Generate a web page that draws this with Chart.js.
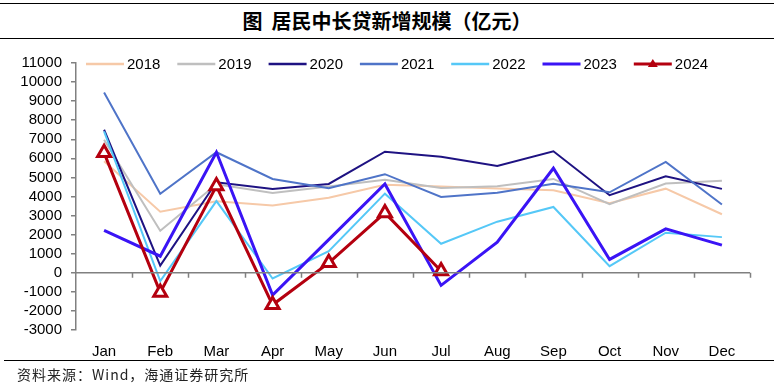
<!DOCTYPE html>
<html>
<head>
<meta charset="utf-8">
<script src="https://cdn.jsdelivr.net/npm/chart.js@4.4.1/dist/chart.umd.min.js"></script>
<style>
  html, body { margin: 0; padding: 0; background: #fff; }
  #wrap { position: relative; width: 774px; height: 391px; overflow: hidden; }
  #title {
    position: absolute; left: 0; top: 3px; width: 774px; height: 34px;
    border-top: 1.5px solid #000; border-bottom: 1.5px solid #000;
    text-align: center; line-height: 34px;
    font-family: "Noto Sans CJK SC", sans-serif; font-weight: bold; font-size: 20px; color: #000;
  }
  #source {
    position: absolute; left: 4px; top: 360px; width: 766px;
    border-top: 1.5px solid #000; padding-left: 13px; padding-top: 3px;
    font-family: "Noto Sans CJK SC", sans-serif; font-size: 14px; color: #222; letter-spacing: 1px;
  }
  #myChart { position: absolute; left: 0; top: 0; }
</style>
</head>
<body>
<div id="wrap">
  <div id="title">图&nbsp;&nbsp;居民中长贷新增规模（亿元）</div>
  <canvas id="myChart" width="774" height="391"></canvas>
  <div id="source">资料来源：Wind，海通证券研究所</div>
</div>
<script>
// data (亿元)
const months = ['Jan', 'Feb', 'Mar', 'Apr', 'May', 'Jun', 'Jul', 'Aug', 'Sep', 'Oct', 'Nov', 'Dec'];
const y2018 = [5850, 3200, 3750, 3530, 3930, 4610, 4520, 4420, 4330, 3650, 4410, 3070];
const y2019 = [6980, 2200, 4640, 4180, 4520, 4880, 4450, 4540, 4920, 3600, 4680, 4820];
const y2020 = [7500, 380, 4750, 4400, 4660, 6350, 6080, 5600, 6370, 4070, 5060, 4400];
const y2021 = [9450, 4140, 6320, 4920, 4430, 5170, 3980, 4200, 4670, 4220, 5810, 3580];
const y2022 = [7420, -440, 3760, -300, 1130, 4150, 1520, 2680, 3450, 350, 2100, 1870];
const y2023 = [2220, 870, 6320, -1170, 1740, 4660, -660, 1600, 5480, 700, 2300, 1450];
const y2024 = [6290, -1030, 4550, -1680, 520, 3140, 90];

const seriesNames = ['2018', '2019', '2020', '2021', '2022', '2023', '2024'];
const seriesColors = ['#F6C9A8', '#BFBFBF', '#1E1282', '#4F74C8', '#55C8F7', '#3A14F5', '#B4000F'];
const seriesValues = [y2018, y2019, y2020, y2021, y2022, y2023, y2024];

const datasets = seriesValues.map((vals, i) => {
  const isLast = i === seriesValues.length - 1;
  return {
    label: seriesNames[i],
    data: vals,
    borderColor: seriesColors[i],
    backgroundColor: isLast ? '#fff' : seriesColors[i],
    borderWidth: i >= 5 ? 3 : 2,
    pointRadius: isLast ? 7.5 : 0,
    pointStyle: 'triangle',
    pointBorderWidth: 3,
    pointBorderColor: seriesColors[i],
    pointBackgroundColor: '#fff',
    tension: 0,
    order: seriesValues.length - i
  };
});

// zero line with downward ticks between categories, and the legend across the top
const axisAndLegend = {
  id: 'axisAndLegend',
  afterDatasetsDraw(chart) {
    const ctx = chart.ctx;
    const x = chart.scales.x;
    const y = chart.scales.y;
    const y0 = y.getPixelForValue(0);
    const step = (x.right - x.left) / months.length;
    ctx.save();
    ctx.strokeStyle = '#808080';
    ctx.lineWidth = 1.5;
    ctx.beginPath();
    ctx.moveTo(x.left, y0);
    ctx.lineTo(x.right, y0);
    for (let i = 1; i <= months.length; i++) {
      const px = Math.round(x.left + i * step) + 0.5;
      ctx.moveTo(px, y0);
      ctx.lineTo(px, y0 + 5);
    }
    ctx.stroke();

    // legend
    ctx.font = '15px "Liberation Sans", Arial, sans-serif';
    ctx.textBaseline = 'middle';
    ctx.fillStyle = '#000';
    const ly = 64;
    seriesNames.forEach((name, i) => {
      const lx = 86 + i * 91.3;
      ctx.strokeStyle = seriesColors[i];
      ctx.lineWidth = i >= 5 ? 3 : 2.5;
      ctx.beginPath();
      ctx.moveTo(lx, ly);
      ctx.lineTo(lx + 38, ly);
      ctx.stroke();
      if (i === seriesNames.length - 1) {
        ctx.fillStyle = seriesColors[i];
        ctx.beginPath();
        ctx.moveTo(lx + 19, ly - 5);
        ctx.lineTo(lx + 24, ly + 3);
        ctx.lineTo(lx + 14, ly + 3);
        ctx.closePath();
        ctx.fill();
        ctx.fillStyle = '#000';
      }
      ctx.fillText(name, lx + 41, ly + 1);
    });
    ctx.restore();
  }
};

const config = {
  type: 'line',
  data: { labels: months, datasets: datasets },
  options: {
    responsive: false,
    animation: false,
    layout: { padding: { top: 63, right: 24, left: 0, bottom: 0 } },
    plugins: { legend: { display: false }, tooltip: { enabled: false } },
    scales: {
      x: {
        offset: true,
        grid: { display: false, drawTicks: false },
        border: { display: false },
        ticks: { padding: 13, color: '#000', font: { family: '"Liberation Sans", Arial, sans-serif', size: 15 } },
        afterFit(scale) { scale.height = 61; }
      },
      y: {
        min: -3000,
        max: 11000,
        ticks: {
          stepSize: 1000, autoSkip: false, padding: 9, color: '#000',
          font: { family: '"Liberation Sans", Arial, sans-serif', size: 15 },
          callback: (v) => String(v)
        },
        grid: { drawOnChartArea: false, drawTicks: true, tickLength: 5, color: '#808080', lineWidth: 1.5 },
        border: { color: '#808080', width: 1.5 },
        afterFit(scale) { scale.width = 76; }
      }
    }
  },
  plugins: [axisAndLegend]
};

const myChart = new Chart(document.getElementById('myChart'), config);
</script>
</body>
</html>
